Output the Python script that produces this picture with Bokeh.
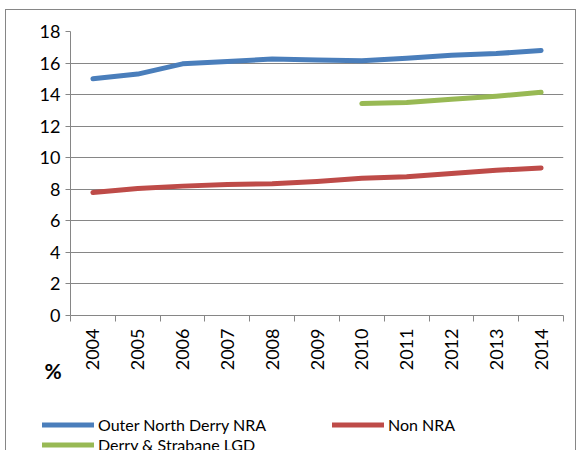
import math
from bokeh.plotting import figure
from bokeh.layouts import column
from bokeh.models import FixedTicker, Legend, LegendItem, Range1d, Label
from bokeh.embed import file_html
from bokeh.resources import INLINE

years = ["2004", "2005", "2006", "2007", "2008", "2009", "2010", "2011", "2012", "2013", "2014"]
outer_north_derry = [15.0, 15.3, 15.95, 16.1, 16.25, 16.2, 16.15, 16.3, 16.5, 16.6, 16.8]
non_nra = [7.8, 8.05, 8.2, 8.3, 8.35, 8.5, 8.7, 8.8, 9.0, 9.2, 9.35]
lgd_years = ["2010", "2011", "2012", "2013", "2014"]
derry_strabane = [13.43, 13.5, 13.7, 13.9, 14.15]
y_ticks = [0, 2, 4, 6, 8, 10, 12, 14, 16, 18]

FONT = "Lato"
GRID = "#868686"
BLUE = "#4A7EBB"
RED = "#BE4B48"
GREEN = "#98B954"

xi = list(range(len(years)))
xg = [years.index(y) for y in lgd_years]

p = figure(width=569, height=385, output_backend="svg", toolbar_location=None,
           x_range=Range1d(-0.5, len(years) - 0.5), y_range=Range1d(0, 18),
           min_border_left=64, min_border_right=12, min_border_top=21, min_border_bottom=80)
p.outline_line_color = None
p.background_fill_color = "white"
p.border_fill_color = "white"

# axes
p.xaxis.ticker = FixedTicker(ticks=xi, minor_ticks=[i - 0.5 for i in range(len(years) + 1)])
p.xaxis.major_label_overrides = {i: y for i, y in zip(xi, years)}
p.xaxis.major_label_orientation = math.pi / 2
p.xaxis.major_tick_out = 0
p.xaxis.major_tick_in = 0
p.xaxis.minor_tick_out = 6
p.xaxis.minor_tick_in = 0
p.xaxis.minor_tick_line_color = GRID
p.xaxis.axis_line_color = GRID
p.xaxis.major_label_standoff = 7
p.xaxis.major_label_text_font = FONT
p.xaxis.major_label_text_font_size = "18px"
p.xaxis.major_label_text_color = "black"

p.yaxis.ticker = FixedTicker(ticks=y_ticks, minor_ticks=[])
p.yaxis.major_tick_out = 5
p.yaxis.major_tick_in = 0
p.yaxis.major_tick_line_color = GRID
p.yaxis.axis_line_color = GRID
p.yaxis.major_label_standoff = 5
p.yaxis.major_label_text_font = FONT
p.yaxis.major_label_text_font_size = "18px"
p.yaxis.major_label_text_color = "black"

p.xgrid.grid_line_color = None
p.ygrid.grid_line_color = GRID
p.ygrid.grid_line_width = 1
p.ygrid.grid_line_alpha = 1

p.line(xi, outer_north_derry, line_color=BLUE, line_width=5, line_cap="round", line_join="round")
p.line(xi, non_nra, line_color=RED, line_width=5, line_cap="round", line_join="round")
p.line(xg, derry_strabane, line_color=GREEN, line_width=5, line_cap="round", line_join="round")

# legend strip, overlapping the bottom of the chart (its lines lie outside its view)
p2 = figure(width=569, height=100, output_backend="svg", toolbar_location=None,
            x_range=Range1d(0, 1), y_range=Range1d(-2, -1), x_axis_type=None, y_axis_type=None,
            min_border=0, styles={"transform": "translateX(-30px)", "margin-top": "-45px"})
p2.outline_line_color = None
p2.grid.grid_line_color = None
p2.background_fill_alpha = 0
p2.border_fill_alpha = 0
k1 = p2.line(xi, outer_north_derry, line_color=BLUE, line_width=5, line_cap="round")
k2 = p2.line(xi, non_nra, line_color=RED, line_width=5, line_cap="round")
k3 = p2.line(xg, derry_strabane, line_color=GREEN, line_width=5, line_cap="round")

p2.add_layout(Label(x=4, y=80, x_units="screen", y_units="screen", text="%",
                    text_font=FONT, text_font_size="21px", text_font_style="bold",
                    text_color="black", text_align="left", text_baseline="middle"))

def mk_legend(items, loc):
    return Legend(items=items, location=loc, orientation="vertical",
                  padding=0, margin=0, spacing=1, border_line_alpha=0,
                  background_fill_alpha=0, glyph_width=52, glyph_height=19,
                  label_height=19, label_standoff=4,
                  label_text_font=FONT, label_text_font_size="16px",
                  label_text_color="black")

p2.add_layout(mk_legend([LegendItem(label="Outer North Derry NRA", renderers=[k1]),
                         LegendItem(label="Derry & Strabane LGD", renderers=[k3])], (2, -4)), "center")
p2.add_layout(mk_legend([LegendItem(label="Non NRA", renderers=[k2])], (292, 16)), "center")

layout = column(p, p2, spacing=0,
                styles={"border": "1px solid #868686", "border-bottom": "none",
                        "margin-left": "5px", "margin-top": "9px"})

open("out.html", "w").write(file_html(layout, INLINE))
